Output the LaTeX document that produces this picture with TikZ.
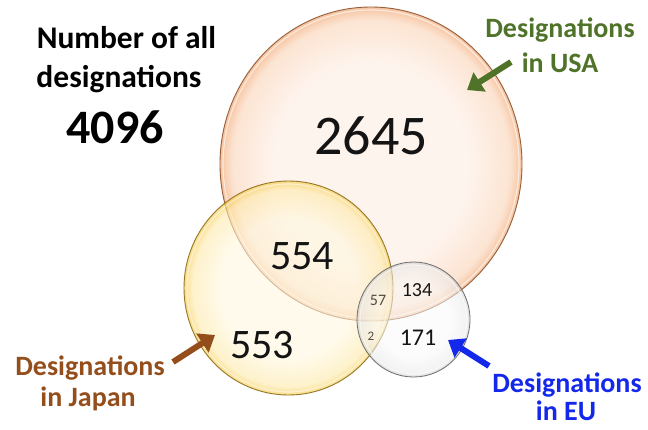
\documentclass[tikz,border=0pt]{standalone}
\usepackage{fontspec}
\setmainfont{Carlito}
\usetikzlibrary{arrows.meta}
\definecolor{usaIn}{RGB}{254,242,234}
\definecolor{usaMid}{RGB}{252,222,200}
\definecolor{usaEdge}{RGB}{244,180,135}
\definecolor{usaLine}{RGB}{150,95,60}
\definecolor{jpIn}{RGB}{255,248,224}
\definecolor{jpMid}{RGB}{254,234,170}
\definecolor{jpEdge}{RGB}{246,200,60}
\definecolor{jpLine}{RGB}{150,120,40}
\definecolor{euIn}{RGB}{250,250,250}
\definecolor{euMid}{RGB}{234,234,234}
\definecolor{euEdge}{RGB}{200,200,200}
\definecolor{euLine}{RGB}{110,110,110}
\definecolor{usaGreen}{RGB}{79,115,40}
\definecolor{jpBrown}{RGB}{148,78,28}
\definecolor{euBlue}{RGB}{20,40,235}
\definecolor{numDark}{RGB}{20,20,20}
\definecolor{numGrey}{RGB}{85,75,65}
\pgfdeclareradialshading{usaglow}{\pgfpoint{0bp}{0bp}}{color(0bp)=(usaIn); color(16bp)=(usaIn); color(23bp)=(usaMid); color(25bp)=(usaEdge); color(50bp)=(usaEdge)}
\pgfdeclareradialshading{jpglow}{\pgfpoint{0bp}{0bp}}{color(0bp)=(jpIn); color(16bp)=(jpIn); color(23bp)=(jpMid); color(25bp)=(jpEdge); color(50bp)=(jpEdge)}
\pgfdeclareradialshading{euglow}{\pgfpoint{0bp}{0bp}}{color(0bp)=(euIn); color(16bp)=(euIn); color(23bp)=(euMid); color(25bp)=(euEdge); color(50bp)=(euEdge)}
\tikzset{
  labeltext/.style={font=\fontsize{28}{30}\selectfont\bfseries, anchor=base, inner sep=0pt},
  titletext/.style={font=\fontsize{31.5}{34}\selectfont\bfseries, anchor=base, inner sep=0pt},
  numtext/.style={anchor=center, inner sep=0pt, text=numDark},
  bigarrow/.style={line width=6pt, -{Triangle[length=15pt,width=22pt]}},
}
\begin{document}
\begin{tikzpicture}[x=1pt,y=-1pt]
\useasboundingbox (0,0) rectangle (648,429);
\fill[white] (0,0) rectangle (648,429);
% USA circle
\shade[shading=usaglow, fill opacity=0.8] (371,164) ellipse [x radius=151pt, y radius=157pt];
\draw[white, line width=1.2pt, draw opacity=0.6] (371,164) ellipse [x radius=148pt, y radius=154pt];
\draw[usaLine, line width=0.9pt] (371,164) ellipse [x radius=151pt, y radius=157pt];
% Japan circle
\shade[shading=jpglow, fill opacity=0.6] (288.5,288) ellipse [x radius=104.5pt, y radius=107pt];
\draw[white, line width=1.2pt, draw opacity=0.5] (288.5,288) ellipse [x radius=101.5pt, y radius=104pt];
\draw[jpLine, line width=0.9pt] (288.5,288) ellipse [x radius=104.5pt, y radius=107pt];
% EU circle
\shade[shading=euglow, fill opacity=0.55] (413.5,319.5) ellipse [x radius=56.5pt, y radius=57.5pt];
\draw[white, line width=1.2pt, draw opacity=0.6] (413.5,319.5) ellipse [x radius=53.5pt, y radius=54.5pt];
\draw[euLine, line width=0.8pt] (413.5,319.5) ellipse [x radius=56.5pt, y radius=57.5pt];
% numbers
\node[numtext, font=\fontsize{56}{60}\selectfont] (n2645) at (371,136) {2645};
\node[numtext, font=\fontsize{42}{46}\selectfont] (n554) at (302,256) {554};
\node[numtext, font=\fontsize{42}{46}\selectfont] (n553) at (262,345) {553};
\node[numtext, font=\fontsize{20}{22}\selectfont] (n134) at (417,290) {134};
\node[numtext, font=\fontsize{24}{26}\selectfont] (n171) at (418,338) {171};
\node[numtext, font=\fontsize{16}{18}\selectfont, text=numGrey] (n57) at (378,300) {57};
\node[numtext, font=\fontsize{13}{15}\selectfont, text=numGrey] (n2) at (371,336) {2};
% title
\node[titletext] (t1) at (126.5,48) {Number of all};
\node[titletext] (t2) at (119,87) {designations};
\node[font=\fontsize{48}{52}\selectfont\bfseries, anchor=base, inner sep=0pt] (t3) at (115,143) {4096};
% labels
\node[labeltext, text=usaGreen] (usa1) at (560,37) {Designations};
\node[labeltext, text=usaGreen] (usa2) at (560,72) {in USA};
\node[labeltext, text=jpBrown] (jp1) at (90,375) {Designations};
\node[labeltext, text=jpBrown] (jp2) at (88,406) {in Japan};
\node[labeltext, text=euBlue] (eu1) at (567,392) {Designations};
\node[labeltext, text=euBlue] (eu2) at (566,420) {in EU};
% arrows
\coordinate (usaTail) at (511,62);
\coordinate (usaHead) at (467,90);
\coordinate (jpTail) at (173,362);
\coordinate (jpHead) at (215,335);
\coordinate (euTail) at (489,366);
\coordinate (euHead) at (448,340);
\draw[bigarrow, usaGreen] (usaTail) -- (usaHead);
\draw[bigarrow, jpBrown] (jpTail) -- (jpHead);
\draw[bigarrow, euBlue] (euTail) -- (euHead);
\end{tikzpicture}
\end{document}
